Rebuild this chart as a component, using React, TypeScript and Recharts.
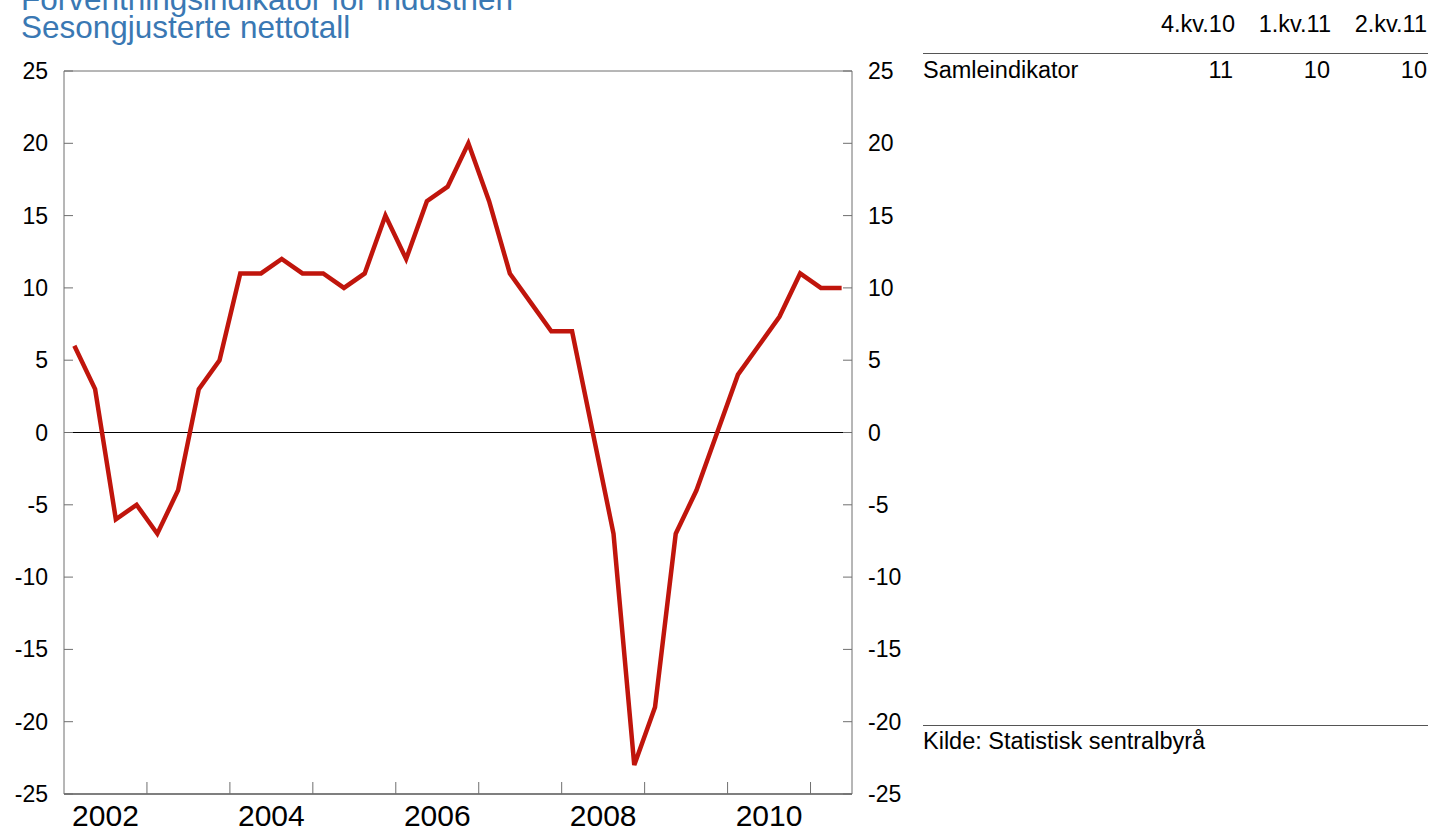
import React from "react";
import { LineChart, Line, XAxis, YAxis, ReferenceLine } from "recharts";

// quarterly, 2002 K1 -> 2011 K2
const years = [2002, 2003, 2004, 2005, 2006, 2007, 2008, 2009, 2010, 2011];
const values = [
  6, 3, -6, -5,
  -7, -4, 3, 5,
  11, 11, 12, 11,
  11, 10, 11, 15,
  12, 16, 17, 20,
  16, 11, 9, 7,
  7, 0, -7, -23,
  -19, -7, -4, 0,
  4, 6, 8, 11,
  10, 10,
];
const yearLabels = ["2002", "2004", "2006", "2008", "2010"];
const yTicks = [-25, -20, -15, -10, -5, 0, 5, 10, 15, 20, 25];

const tableHeads = ["4.kv.10", "1.kv.11", "2.kv.11"];
const tableRow = "Samleindikator";
const tableValues = [11, 10, 10];

const FONT = "Arial, 'Liberation Sans', sans-serif";
const AXIS = "#6f6f6f";

const data = values.map((v, i) => ({ i, v }));

// year boundaries get a tick mark, year centres of the labelled years get text
const boundaryTicks = years.slice(1).map((_, k) => (k + 1) * 4 - 0.5);
const labelTicks = yearLabels.map((y) => (Number(y) - years[0]) * 4 + 1.5);
const xTicks = [...boundaryTicks, ...labelTicks].sort((a, b) => a - b);

const XTick = (props: any) => {
  const { x, y, payload } = props;
  const idx = labelTicks.indexOf(payload.value);
  if (idx >= 0) {
    return (
      <text x={x} y={y + 32} textAnchor="middle" fontSize={30} fontFamily={FONT} fill="#000">
        {yearLabels[idx]}
      </text>
    );
  }
  return <line x1={x} x2={x} y1={y} y2={y - 12} stroke={AXIS} strokeWidth={1} />;
};

const LeftTick = (props: any) => {
  const { x, y, payload } = props;
  return (
    <g>
      <line x1={x} x2={x + 9} y1={y} y2={y} stroke={AXIS} strokeWidth={1} />
      <text x={x - 16} y={y} dy="0.35em" textAnchor="end" fontSize={23} fontFamily={FONT} fill="#000">
        {payload.value}
      </text>
    </g>
  );
};

const RightTick = (props: any) => {
  const { x, y, payload } = props;
  return (
    <g>
      <line x1={x - 9} x2={x} y1={y} y2={y} stroke={AXIS} strokeWidth={1} />
      <text x={x + 16} y={y} dy="0.35em" textAnchor="start" fontSize={23} fontFamily={FONT} fill="#000">
        {payload.value}
      </text>
    </g>
  );
};

const txt: React.CSSProperties = {
  position: "absolute",
  fontFamily: FONT,
  fontSize: 23.5,
  lineHeight: "23px",
  color: "#000",
  whiteSpace: "nowrap",
};

export default function App() {
  return (
    <div
      style={{
        position: "absolute",
        left: 0,
        top: 0,
        width: 1430,
        height: 830,
        overflow: "hidden",
        background: "#fff",
      }}
    >
      {/* TITLE (first line is cut off at the top in the original) */}
      <div
        style={{
          position: "absolute",
          left: 21,
          top: -15,
          fontFamily: FONT,
          fontSize: 31.5,
          lineHeight: "28px",
          color: "#3a78b3",
          whiteSpace: "nowrap",
        }}
      >
        <div>Forventningsindikator for industrien</div>
        <div>Sesongjusterte nettotall</div>
      </div>

      {/* CHART */}
      <div style={{ position: "absolute", left: 0, top: 0 }}>
        <LineChart
          width={1430}
          height={830}
          data={data}
          margin={{ top: 71, right: 518, bottom: 6, left: 4 }}
        >
          <XAxis
            dataKey="i"
            type="number"
            domain={[-0.5, values.length - 0.5]}
            ticks={xTicks}
            interval={0}
            height={30}
            tickSize={0}
            tickMargin={0}
            tickLine={false}
            axisLine={{ stroke: "#555", strokeWidth: 1.5 }}
            tick={<XTick />}
            allowDataOverflow
          />
          <YAxis
            yAxisId="left"
            domain={[-25, 25]}
            ticks={yTicks}
            interval={0}
            width={60}
            tickSize={0}
            tickMargin={0}
            tickLine={false}
            axisLine={{ stroke: AXIS }}
            tick={<LeftTick />}
          />
          <YAxis
            yAxisId="right"
            orientation="right"
            domain={[-25, 25]}
            ticks={yTicks}
            interval={0}
            width={60}
            tickSize={0}
            tickMargin={0}
            tickLine={false}
            axisLine={{ stroke: AXIS }}
            tick={<RightTick />}
          />
          <ReferenceLine yAxisId="left" y={25} stroke={AXIS} strokeWidth={1} />
          <ReferenceLine yAxisId="left" y={0} stroke="#000" strokeWidth={1} />
          <Line
            yAxisId="right"
            dataKey="v"
            stroke="none"
            dot={false}
            activeDot={false}
            isAnimationActive={false}
          />
          <Line
            yAxisId="left"
            type="linear"
            dataKey="v"
            stroke="#c0150c"
            strokeWidth={4.5}
            strokeLinejoin="miter"
            dot={false}
            activeDot={false}
            isAnimationActive={false}
          />
        </LineChart>
      </div>

      {/* TABLE */}
      {tableHeads.map((h, k) => (
        <div key={h} style={{ ...txt, top: 12.5, right: 1430 - (1235 + k * 96), textAlign: "right" }}>
          {h}
        </div>
      ))}
      <div style={{ position: "absolute", left: 923, top: 53, width: 505, height: 1, background: "#555" }} />
      <div style={{ ...txt, left: 923, top: 58.5 }}>{tableRow}</div>
      {tableValues.map((v, k) => (
        <div key={k} style={{ ...txt, top: 58.5, right: 1430 - (1233 + k * 97), textAlign: "right" }}>
          {v}
        </div>
      ))}

      {/* SOURCE */}
      <div style={{ position: "absolute", left: 923, top: 725, width: 505, height: 1, background: "#555" }} />
      <div style={{ ...txt, left: 923, top: 729.5 }}>Kilde: Statistisk sentralbyrå</div>
    </div>
  );
}
